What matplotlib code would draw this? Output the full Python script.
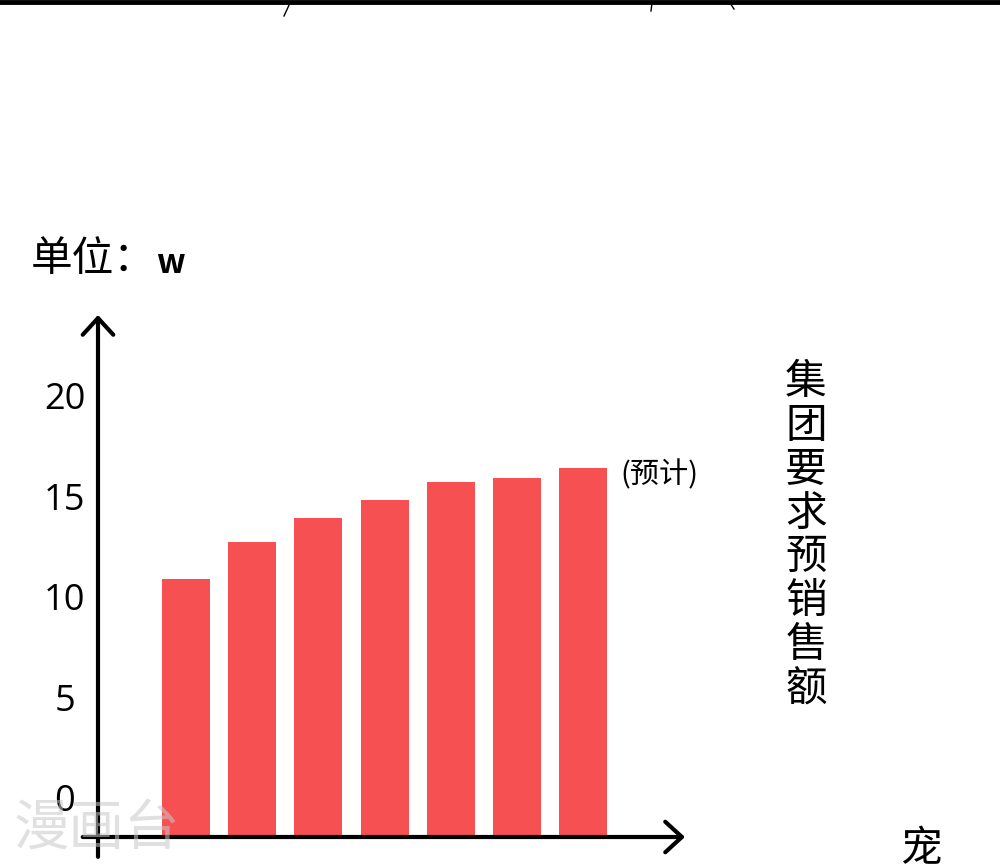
import matplotlib.pyplot as plt
from matplotlib.lines import Line2D

plt.rcParams['font.family'] = ['Noto Sans CJK SC', 'DejaVu Sans']

# Datos del gráfico (unidad: w)
periods = ['1', '2', '3', '4', '5', '6', '7']
values = [10.9, 12.7, 13.9, 14.8, 15.7, 15.9, 16.4]
ytick_values = [0, 5, 10, 15, 20]
ytick_labels = ['0', '5', '10', '15', '20']
unit_label = '单位：'
unit_symbol = 'w'
note_label = '(预计)'
side_title = '集团要求预销售额'
corner_char = '宠'
watermark = '漫画台'

W, H = 1000, 868
BAR_COLOR = '#F65052'
baseline = -1.97


def fx(px):
    return px / W


def fy(py):
    return 1 - py / H


fig = plt.figure(figsize=(W / 100, H / 100), dpi=100)
ax = fig.add_axes([fx(98), fy(837), 587 / W, 522 / H])

x = range(len(periods))
ax.bar(x, [v - baseline for v in values], bottom=baseline, width=0.725,
       color=BAR_COLOR, linewidth=0)
ax.set_xlim(-1.33, 7.54)
ax.set_ylim(baseline, 24.02)

for spine in ax.spines.values():
    spine.set_visible(False)
ax.set_xticks([])
ax.set_yticks(ytick_values, ytick_labels)
ax.tick_params(axis='y', length=0, pad=24, labelsize=26)
for lbl in ax.get_yticklabels():
    lbl.set_horizontalalignment('center')
    lbl.set_fontfamily('Open Sans')

# Ejes dibujados como flechas
arrow = dict(arrowstyle='->,head_length=0.6,head_width=0.55', lw=3,
             color='black', mutation_scale=20, shrinkA=0, shrinkB=0)
ax.annotate('', xy=(0, 1), xytext=(0, -0.038), xycoords='axes fraction',
            arrowprops=arrow, annotation_clip=False)
ax.annotate('', xy=(1, 0), xytext=(-0.026, 0), xycoords='axes fraction',
            arrowprops=arrow, annotation_clip=False)

# Textos
fig.text(fx(31), fy(259), unit_label, fontsize=30, ha='left', va='center')
fig.text(fx(156), fy(273), unit_symbol, fontsize=24, fontweight='bold',
         ha='left', va='baseline')
fig.text(fx(659), fy(475), note_label, fontsize=21, ha='center', va='center')
fig.text(fx(806), fy(536), '\n'.join(side_title), fontsize=30, ha='center',
         va='center', linespacing=1.09)
fig.text(fx(921), fy(850), corner_char, fontsize=30, ha='center',
         va='center')
fig.text(fx(97), fy(830), watermark, fontsize=40, ha='center', va='center',
         color='#c8c8c8', alpha=0.55, zorder=5)

# Borde superior de la viñeta
fig.add_artist(Line2D([0, 1], [fy(1.5), fy(1.5)], color='black', lw=3.5))
for xs, ys in [((284, 290), (16, 3)), ((652, 651), (3, 11)),
               ((730, 734), (3, 9))]:
    fig.add_artist(Line2D([fx(xs[0]), fx(xs[1])], [fy(ys[0]), fy(ys[1])],
                          color='black', lw=1))

fig.savefig('out.png', dpi=100)
plt.close(fig)
